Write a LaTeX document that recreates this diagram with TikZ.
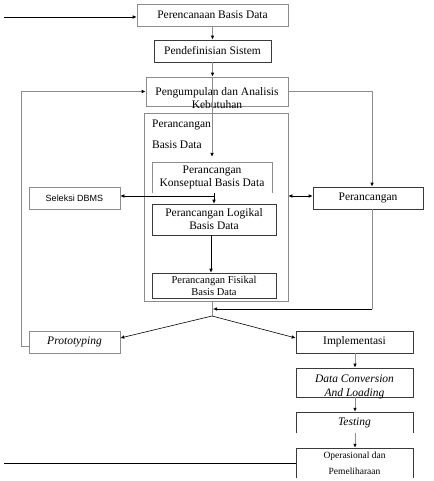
\documentclass[tikz,border=0pt]{standalone}
\usepackage{fontspec}
\setmainfont{Liberation Serif}
\newfontfamily\sansf{Liberation Sans}
\usetikzlibrary{arrows.meta}
\definecolor{lgray}{HTML}{8C8C8C}
\definecolor{dgray}{HTML}{3A3A3A}
\tikzset{
  box/.style={draw=lgray, line width=0.6pt, inner sep=0pt, align=center, font=\fontsize{11.5}{13}\selectfont},
  dbox/.style={box, draw=dgray},
  nobox/.style={inner sep=0pt, align=center, font=\fontsize{11.5}{13}\selectfont},
  txt/.style={inner sep=0pt, align=center, font=\fontsize{11.5}{13}\selectfont},
  arr/.style={-{Latex[length=4pt,width=3.5pt]}, line width=0.6pt, black},
  garr/.style={-{Latex[length=4pt,width=3.5pt,color=black]}, line width=0.9pt, draw=lgray},
  gline/.style={line width=0.6pt, draw=lgray},
  bline/.style={line width=0.6pt, black},
  side/.style={line width=0.6pt, draw=dgray},
}
\begin{document}
\begin{tikzpicture}[x=1pt,y=-1pt]
\useasboundingbox (0,0) rectangle (433,481);
\fill[white] (0,0) rectangle (433,481);
% boxes
\node[box, minimum width=151pt, minimum height=22pt] (plan) at (212.5,15) {Perencanaan Basis Data};
\node[dbox, minimum width=117pt, minimum height=22pt] (def) at (212.5,51) {Pendefinisian Sistem};
\node[box, minimum width=142pt, minimum height=29pt] (req) at (217,91.5) {};
\node[txt] (reqt) at (217,98) {Pengumpulan dan Analisis\\Kebutuhan};
\node[box, minimum width=144pt, minimum height=188pt] (dbd) at (216,207) {};
\node[txt, anchor=west] (dbdt1) at (152,125) {Perancangan};
\node[txt, anchor=west] (dbdt2) at (152,145) {Basis Data};
\node[nobox, minimum width=120pt, minimum height=31pt] (kon) at (212,177.5) {Perancangan\\Konseptual Basis Data};
\draw[gline] (kon.south west) -- (kon.north west) -- (kon.north east) -- (kon.south east);
\node[dbox, minimum width=124pt, minimum height=31pt] (log) at (214,219.5) {Perancangan Logikal\\Basis Data};
\node[dbox, minimum width=124pt, minimum height=25pt, font=\fontsize{10.5}{12}\selectfont] (fis) at (214,285.5) {Perancangan Fisikal\\Basis Data};
\node[box, minimum width=91pt, minimum height=22pt, font=\sansf\fontsize{9}{11}\selectfont] (sel) at (74.5,198) {Seleksi DBMS};
\node[dbox, minimum width=110pt, minimum height=22pt] (per) at (368,198) {Perancangan};
\node[box, minimum width=91pt, minimum height=22pt] (proto) at (74.5,342) {\itshape Prototyping};
\node[dbox, minimum width=117pt, minimum height=22pt] (imp) at (354.5,342) {Implementasi};
\node[dbox, minimum width=117pt, minimum height=29pt] (dc) at (354.5,382.5) {};
\node[txt, font=\itshape\fontsize{11.5}{14}\selectfont] (dct) at (354.5,386.5) {Data Conversion\\And Loading};
\node[nobox, minimum width=117pt, minimum height=21pt, font=\itshape\fontsize{11.5}{13}\selectfont] (test) at (354.5,422.5) {Testing};
\draw[side] (test.south west) -- (test.north west) -- (test.north east) -- (test.south east);
\node[nobox, minimum width=117pt, minimum height=30pt, font=\fontsize{9.5}{16}\selectfont] (ops) at (354.5,463) {Operasional dan\\Pemeliharaan};
\draw[side] (ops.south west) -- (ops.north west) -- (ops.north east) -- (ops.south east);
% coordinates
\coordinate (in1) at (4,17);
\coordinate (out1) at (4,463);
\coordinate (lp1) at (21,346);
\coordinate (lp2) at (21,91.5);
\coordinate (rp1) at (372,91.5);
\coordinate (j1) at (214,196);
\coordinate (split) at (212,316);
\coordinate (pb) at (372,309);
\coordinate (pc) at (213,309);
\coordinate (ca) at (212,77);
\coordinate (cb) at (212,157);
% connectors
\draw[arr] (in1) -- (plan.west |- in1);
\draw[garr] (plan.south) -- (def.north);
\draw[garr] (def.south) -- (def.south |- req.north);
\draw[garr] (req.south -| ca) -- (cb);
\draw[gline] (req.north -| ca) -- (req.south -| ca);
\draw[garr] (proto.west |- lp1) -- (lp1) -- (lp2) -- (req.west);
\draw[garr] (req.east) -- (rp1) -- (per.north -| rp1);
\draw[arr] (j1) -- (sel.east |- j1);
\draw[arr] (kon.south -| j1) -- (log.north -| j1);
\draw[arr, {Latex[length=4pt,width=3.5pt]}-{Latex[length=4pt,width=3.5pt]}] (dbd.east |- j1) -- (per.west |- j1);
\draw[arr] (211,235) -- (fis.north -| 211,0);
\draw[gline] (dbd.south -| split) -- (split);
\draw[arr] (split) -- ([yshift=4pt]proto.east);
\draw[arr] (split) -- ([yshift=4pt]imp.west);
\draw[gline] (per.south -| pb) -- (pb);
\draw[arr] (pb) -- (pc);
\draw[garr] (imp.south -| 355,0) -- (dc.north -| 355,0);
\draw[garr] (dc.south -| 355,0) -- (test.north -| 355,0);
\draw[garr] (test.south -| 355,0) -- (ops.north -| 355,0);
\draw[bline] (out1) -- (ops.west |- out1);
\end{tikzpicture}
\end{document}
